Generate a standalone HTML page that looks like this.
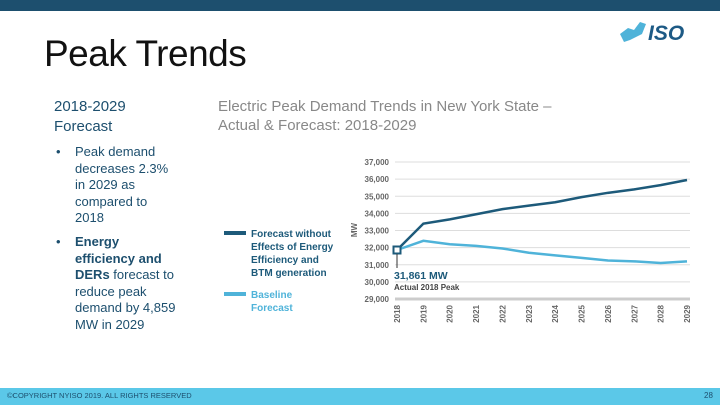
<!DOCTYPE html>
<html><head><meta charset="utf-8"><style>
body{margin:0;width:720px;height:405px;position:relative;overflow:hidden;background:#fff;font-family:"Liberation Sans",sans-serif}
.abs{position:absolute}
</style></head><body>
<div class="abs" style="left:0;top:0;width:720px;height:11px;background:#1d4f6e"></div>
<div class="abs" style="left:618px;top:20px;width:84px;height:24px">
<svg width="84" height="24"><polygon points="2,14 10,8 16,10 22,2 28,4 24,14 12,20 6,22" fill="#4fb3d9"/><text x="30" y="20" font-family="Liberation Sans" font-weight="bold" font-style="italic" font-size="21" fill="#1d5a85">ISO</text></svg></div>
<div class="abs" style="left:44px;top:33px;font-size:37px;color:#111;letter-spacing:-0.5px">Peak Trends</div>
<div class="abs" style="left:54px;top:97px;font-size:15px;color:#1d4f6e;line-height:20px">2018-2029<br>Forecast</div>
<div class="abs" style="left:54px;top:144px;font-size:13px;color:#1d4f6e;line-height:16.5px"><span style="position:absolute;left:2px">•</span><div style="margin-left:21px;width:104px">Peak demand decreases 2.3% in 2029 as compared to 2018</div></div>
<div class="abs" style="left:54px;top:234px;font-size:13px;color:#1d4f6e;line-height:16.5px"><span style="position:absolute;left:2px">•</span><div style="margin-left:21px;width:104px"><b>Energy efficiency and DERs</b> forecast to reduce peak demand by 4,859 MW in 2029</div></div>
<div class="abs" style="left:218px;top:97px;font-size:15px;color:#888;line-height:19px">Electric Peak Demand Trends in New York State –<br>Actual &amp; Forecast: 2018-2029</div>
<svg class="abs" id="chart" style="left:0;top:0" width="720" height="405"></svg>
<div class="abs" style="left:0;top:388px;width:720px;height:17px;background:#5bc8e8"></div>
<div class="abs" style="left:7px;top:391px;font-size:7.5px;color:#1d4f6e">©COPYRIGHT NYISO 2019. ALL RIGHTS RESERVED</div>
<div class="abs" style="left:704px;top:391px;font-size:8px;color:#1d4f6e">28</div>
<script>
const years=[2018,2019,2020,2021,2022,2023,2024,2025,2026,2027,2028,2029];
const forecastNoEE=[31861,33400,33650,33950,34250,34450,34650,34950,35200,35400,35650,35950];
const baseline=[31861,32400,32200,32100,31950,31700,31550,31400,31250,31200,31100,31200];
const yTicks=[29000,30000,31000,32000,33000,34000,35000,36000,37000];
const svg=document.getElementById('chart');
const NS='http://www.w3.org/2000/svg';
const x=i=>397+i*(290/11);
const y=v=>299-(v-29000)*(137/8000);
function mk(t,a){const e=document.createElementNS(NS,t);for(const k in a)e.setAttribute(k,a[k]);svg.appendChild(e);return e;}
yTicks.forEach(v=>{
 const g=mk('line',{x1:395,x2:690,y1:y(v),y2:y(v),stroke:v===29000?'#ccc':'#ddd','stroke-width':v===29000?3:1});
 
 
 const t=mk('text',{x:389,y:y(v)+3,'text-anchor':'end','font-size':8,fill:'#666','font-weight':'bold'});
 t.textContent=v.toLocaleString('en-US');
 
 
});
years.forEach((yr,i)=>{
 const t=mk('text',{x:0,y:0,'font-size':8,fill:'#666','font-weight':'bold','text-anchor':'end',transform:`translate(${x(i)+3},305) rotate(-90)`});
 t.textContent=yr;
 
 
});
const yt=mk('text',{x:0,y:0,'font-size':8,fill:'#666','font-weight':'bold','text-anchor':'middle',transform:'translate(357,230) rotate(-90)'});
yt.textContent='MW';


function line(d,c,n){const p=mk('polyline',{points:d.map((v,i)=>x(i)+','+y(v)).join(' '),fill:'none',stroke:c,'stroke-width':2.5});
 
 }
line(baseline,'#4fb3d9','baseline-line');
line(forecastNoEE,'#1d5a7a','forecast-line');
const m=mk('rect',{x:x(0)-3.5,y:y(forecastNoEE[0])-3.5,width:7,height:7,fill:'#fff',stroke:'#1d5a7a','stroke-width':2});


mk('line',{x1:x(0),x2:x(0),y1:y(forecastNoEE[0])+4,y2:268,stroke:'#333','stroke-width':1});
const a1=mk('text',{x:394,y:279,'font-size':10.5,fill:'#1d5a7a','font-weight':'bold'});a1.textContent='31,861 MW';


const a2=mk('text',{x:394,y:290,'font-size':8,fill:'#444','font-weight':'bold'});a2.textContent='Actual 2018 Peak';


function leg(yy,c,lines,n){const r=mk('rect',{x:224,y:yy-4,width:22,height:4,fill:c});
 
 
 lines.forEach((s,i)=>{const t=mk('text',{x:251,y:yy+2+i*13,'font-size':10,'font-weight':'bold',fill:c});t.textContent=s;
 
 });}
leg(235,'#1d5a7a',['Forecast without','Effects of Energy','Efficiency and','BTM generation'],'legend-forecast');
leg(296,'#4fb3d9',['Baseline','Forecast'],'legend-baseline');
</script>
</body></html>
